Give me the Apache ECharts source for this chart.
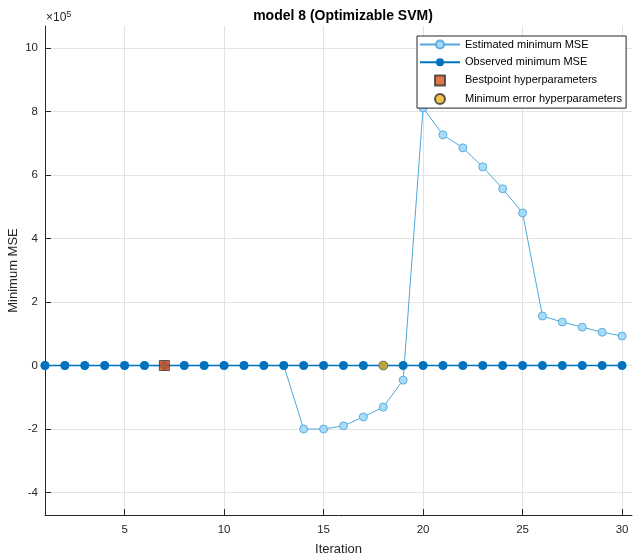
<!DOCTYPE html>
<html>
<head>
<meta charset="utf-8">
<style>
  html, body { margin: 0; padding: 0; background: #fff; }
  #chart { width: 633px; height: 555px; }
</style>
<script src="https://cdn.jsdelivr.net/npm/echarts@6/dist/echarts.min.js"></script>
</head>
<body>
<div id="chart"></div>
<script>
const FONT = "Liberation Sans, Arial, Helvetica, sans-serif";

// values in units of 1e5
const iterations = [1, 2, 3, 4, 5, 6, 7, 8, 9, 10, 11, 12, 13, 14, 15, 16, 17, 18, 19, 20, 21, 22, 23, 24, 25, 26, 27, 28, 29, 30];
const estimatedMin = [0, 0, 0, 0, 0, 0, 0, 0, 0, 0, 0, 0, 0, -2.0, -2.0, -1.9, -1.62, -1.31, -0.46, 8.12, 7.27, 6.86, 6.26, 5.57, 4.81, 1.56, 1.37, 1.21, 1.05, 0.93];
const observedMin = [0, 0, 0, 0, 0, 0, 0, 0, 0, 0, 0, 0, 0, 0, 0, 0, 0, 0, 0, 0, 0, 0, 0, 0, 0, 0, 0, 0, 0, 0];
const bestPoint = [[7, 0]];
const minErrorPoint = [[18, 0]];
const xTicks = [5, 10, 15, 20, 25, 30];
const yTicks = [-4, -2, 0, 2, 4, 6, 8, 10];

const chart = echarts.init(document.getElementById("chart"), null, { renderer: "canvas" });

const axisText = { fontFamily: FONT, fontSize: 11.5, color: "#262626" };
const gridLine = { show: true, lineStyle: { color: "#e3e3e3", width: 1 } };

chart.setOption({
  animation: false,
  backgroundColor: "#ffffff",
  title: {
    text: "model 8 (Optimizable SVM)",
    left: 338,
    top: 4,
    textAlign: "center",
    textStyle: { fontFamily: FONT, fontSize: 14, fontWeight: "bold", color: "#000" },
  },
  grid: { left: 45, right: 1, top: 26, bottom: 40, outerBoundsMode: "none", containLabel: false },
  legend: {
    orient: "vertical",
    left: 417,
    top: 36,
    padding: [3, 4, 3, 2],
    itemWidth: 40,
    itemHeight: 10,
    itemGap: 6.7,
    backgroundColor: "#fff",
    borderColor: "#262626",
    borderWidth: 1,
    borderRadius: 0,
    textStyle: { fontFamily: FONT, fontSize: 11, color: "#000" },
    data: [
      { name: "Estimated minimum MSE" },
      { name: "Observed minimum MSE" },
      { name: "Bestpoint hyperparameters", icon: "path://M0,0L10,0L10,10L0,10Z" },
      { name: "Minimum error hyperparameters", icon: "path://M5,0A5,5,0,1,1,4.99,0Z" },
    ],
  },
  xAxis: {
    type: "value",
    min: 1,
    max: 30.5,
    name: "Iteration",
    nameLocation: "middle",
    nameGap: 28,
    nameMoveOverlap: false,
    nameTextStyle: { fontFamily: FONT, fontSize: 13, color: "#262626" },
    axisLine: { show: true, onZero: false, lineStyle: { color: "#262626", width: 1 } },
    axisTick: { show: true, inside: true, length: 6, customValues: xTicks, lineStyle: { color: "#262626", width: 1 } },
    axisLabel: { ...axisText, margin: 9, customValues: xTicks },
    splitLine: gridLine,
  },
  yAxis: {
    type: "value",
    min: -4.71,
    max: 10.7,
    name: "Minimum MSE",
    nameLocation: "middle",
    nameGap: 25,
    nameMoveOverlap: false,
    nameTextStyle: { fontFamily: FONT, fontSize: 13, color: "#262626" },
    axisLine: { show: true, onZero: false, lineStyle: { color: "#262626", width: 1 } },
    axisTick: { show: true, inside: true, length: 6, customValues: yTicks, lineStyle: { color: "#262626", width: 1 } },
    axisLabel: { ...axisText, margin: 7, customValues: yTicks },
    splitLine: gridLine,
  },
  graphic: [
    {
      type: "text",
      left: 46,
      top: 10,
      style: {
        text: "×10{sup|5}",
        fontFamily: FONT,
        fontSize: 12,
        fill: "#262626",
        rich: { sup: { fontSize: 9, verticalAlign: "top", padding: [0, 0, 7, 0], fontFamily: FONT, fill: "#262626" } },
      },
    },
  ],
  series: [
    {
      name: "Estimated minimum MSE",
      type: "line",
      data: iterations.map((x, i) => [x, estimatedMin[i]]),
      symbol: "circle",
      symbolSize: 8,
      lineStyle: { color: "#4fa8dc", width: 1 },
      itemStyle: { color: "#a8dbf7", borderColor: "#5aaee0", borderWidth: 1 },
      z: 2,
    },
    {
      name: "Observed minimum MSE",
      type: "line",
      data: iterations.map((x, i) => [x, observedMin[i]]),
      symbol: "circle",
      symbolSize: 9,
      lineStyle: { color: "#0072bd", width: 1.5 },
      itemStyle: { color: "#0072bd", borderColor: "#0072bd", borderWidth: 0 },
      z: 3,
    },
    {
      name: "Bestpoint hyperparameters",
      type: "scatter",
      data: bestPoint,
      symbol: "rect",
      symbolSize: 10,
      itemStyle: { color: "#d95319", borderColor: "#333", borderWidth: 1 },
      z: 4,
    },
    {
      name: "Minimum error hyperparameters",
      type: "scatter",
      data: minErrorPoint,
      symbol: "circle",
      symbolSize: 9,
      itemStyle: { color: "#edb120", borderColor: "#333", borderWidth: 0.6 },
      z: 4,
    },
  ],
});
</script>
</body>
</html>
